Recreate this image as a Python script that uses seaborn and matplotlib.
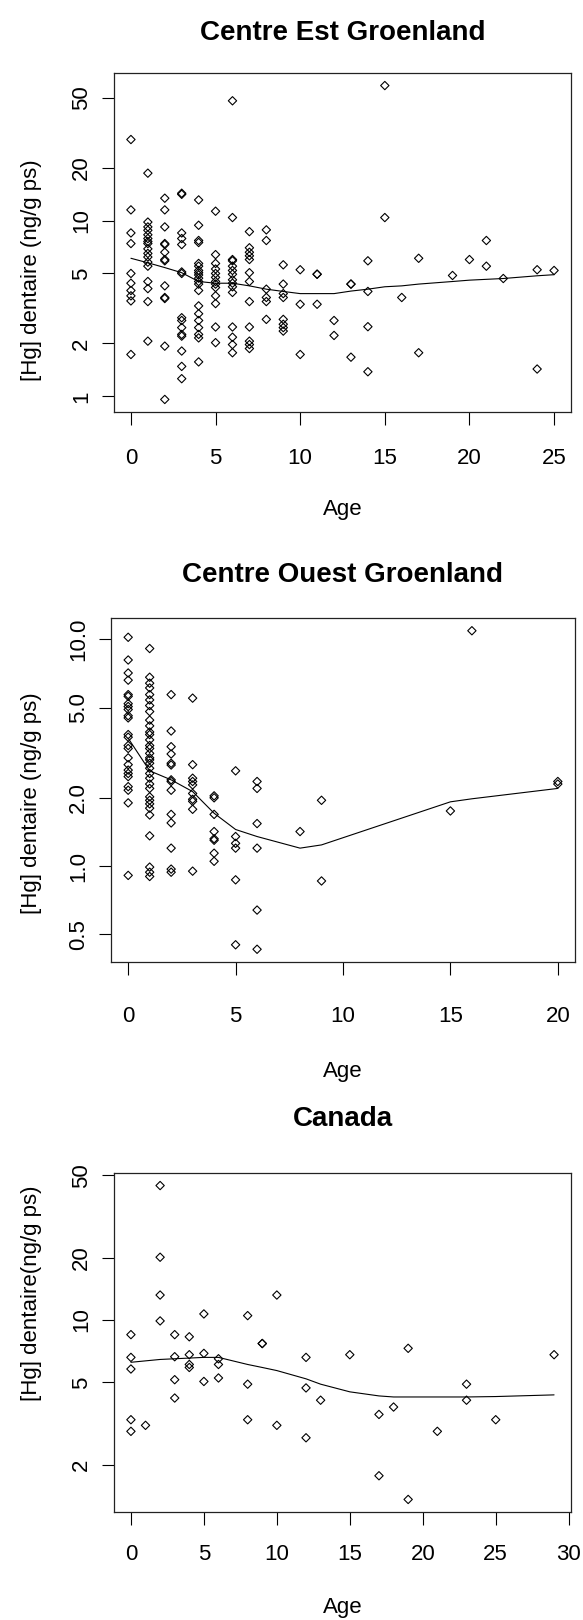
import pandas as pd
import matplotlib
matplotlib.use("Agg")
import matplotlib.pyplot as plt
import seaborn as sns
from matplotlib.ticker import NullLocator

# ---- data ----
# Centre Est Groenland : one list of [Hg] values per age
east_ages = [0, 1, 2, 3, 4, 5, 6, 7, 8, 9, 10, 11, 12, 13, 14, 15, 16, 17, 19, 20, 21, 22, 24, 25]
east_hg = [
    [28.9, 11.5, 8.5, 7.4, 5.0, 4.4, 4.0, 3.73, 3.49, 1.73],
    [18.6, 9.8, 9.2, 8.8, 8.3, 7.9, 7.6, 7.4, 6.9, 6.5, 6.2, 5.8, 5.5, 4.5, 4.1, 3.46, 2.06],
    [13.4, 11.5, 9.2, 7.4, 7.3, 6.6, 6.0, 5.9, 4.25, 3.65, 3.6, 1.93, 0.96],
    [14.3, 14.1, 8.5, 7.9, 7.3, 5.1, 5.0, 2.8, 2.7, 2.46, 2.25, 2.2, 1.81, 1.48, 1.26],
    [13.1, 9.4, 7.7, 7.5, 5.7, 5.5, 5.2, 5.05, 4.9, 4.7, 4.5, 4.35, 4.0, 3.27, 2.95, 2.7, 2.46, 2.25, 2.15, 1.57],
    [11.3, 6.4, 5.7, 5.3, 5.0, 4.75, 4.5, 4.35, 4.16, 3.73, 3.37, 2.48, 2.02],
    [48.0, 10.4, 6.0, 5.9, 5.5, 5.2, 4.95, 4.6, 4.4, 4.2, 3.9, 2.48, 2.17, 1.97, 1.77],
    [8.65, 7.0, 6.6, 6.3, 6.0, 5.05, 4.5, 3.46, 2.48, 2.06, 1.97, 1.87],
    [8.85, 7.7, 4.07, 3.65, 3.46, 2.74],
    [5.6, 4.35, 3.84, 3.65, 2.74, 2.57, 2.46, 2.35],
    [5.25, 3.34, 1.73],
    [4.95, 4.95, 3.34],
    [2.7, 2.22],
    [4.35, 4.35, 1.67],
    [5.9, 3.95, 2.49, 1.38],
    [58.6, 10.4],
    [3.65],
    [6.1, 1.77],
    [4.87],
    [6.0],
    [7.7, 5.5],
    [4.68],
    [5.25, 1.43],
    [5.2],
]
east_fit_age = [0, 1, 2, 3, 4, 5, 6, 7, 8, 9, 10, 11, 12, 13, 14, 15, 16, 17, 19, 20, 21, 22, 24, 25]
east_fit_hg = [6.1, 5.75, 5.4, 5.05, 4.5, 4.4, 4.4, 4.25, 4.07, 3.95, 3.84, 3.84, 3.84, 3.97, 4.07,
               4.2, 4.25, 4.35, 4.5, 4.58, 4.63, 4.68, 4.85, 4.92]

# Centre Ouest Groenland
west_ages = [0, 1, 2, 3, 4, 5, 6, 8, 9, 15, 16, 20]
west_hg = [
    [10.2, 8.1, 7.1, 6.6, 5.7, 5.6, 5.2, 5.05, 4.9, 4.6, 4.5, 3.8, 3.7, 3.4, 3.3, 3.0, 2.8, 2.65,
     2.56, 2.48, 2.24, 2.16, 1.90, 0.91],
    [9.1, 6.8, 6.4, 6.1, 5.7, 5.4, 5.1, 4.8, 4.4, 4.15, 3.9, 3.8, 3.6, 3.4, 3.3, 3.14, 3.0, 2.94,
     2.84, 2.7, 2.56, 2.44, 2.3, 2.2, 2.02, 1.95, 1.88, 1.8, 1.68, 1.36, 0.99, 0.94, 0.90],
    [5.7, 3.94, 3.36, 3.12, 2.84, 2.79, 2.4, 2.36, 2.16, 1.69, 1.55, 1.2, 0.97, 0.94],
    [5.5, 2.8, 2.44, 2.36, 2.28, 2.09, 1.97, 1.93, 1.78, 0.95],
    [2.04, 2.0, 1.69, 1.42, 1.32, 1.3, 1.14, 1.05],
    [2.63, 1.35, 1.26, 1.2, 0.87, 0.45],
    [2.36, 2.2, 1.54, 1.2, 0.64, 0.43],
    [1.42],
    [1.95, 0.86],
    [1.75],
    [10.9],
    [2.36, 2.3],
]
west_fit_age = [0, 1, 2, 3, 4, 5, 6, 8, 9, 15, 16, 20]
west_fit_hg = [3.66, 2.63, 2.4, 2.13, 1.71, 1.45, 1.35, 1.2, 1.24, 1.92, 1.98, 2.2]

# Canada
canada_ages = [0, 1, 2, 3, 4, 5, 6, 8, 9, 10, 12, 13, 15, 17, 18, 19, 21, 23, 25, 29]
canada_hg = [
    [8.5, 6.6, 5.8, 3.3, 2.9],
    [3.1],
    [44.6, 20.1, 13.2, 9.9],
    [8.5, 6.65, 5.15, 4.2],
    [8.3, 6.8, 6.1, 5.9],
    [10.7, 6.9, 5.05],
    [6.5, 6.1, 5.25],
    [10.5, 4.9, 3.3],
    [7.7, 7.7],
    [13.2, 3.1],
    [6.6, 4.7, 2.7],
    [4.1],
    [6.8],
    [3.5, 1.77],
    [3.8],
    [7.3, 1.36],
    [2.9],
    [4.9, 4.1],
    [3.3],
    [6.8],
]
canada_fit_age = [0, 1, 2, 3, 4, 5, 6, 8, 9, 10, 12, 13, 15, 17, 18, 19, 21, 23, 25, 29]
canada_fit_hg = [6.25, 6.35, 6.45, 6.5, 6.55, 6.6, 6.6, 6.1, 5.9, 5.7, 5.2, 4.9, 4.5, 4.3, 4.25,
                 4.25, 4.25, 4.25, 4.27, 4.35]

titles = ["Centre Est Groenland", "Centre Ouest Groenland", "Canada"]
ylabels = ["[Hg] dentaire (ng/g ps)", "[Hg] dentaire (ng/g ps)", "[Hg] dentaire(ng/g ps)"]
x_ticks = [[0, 5, 10, 15, 20, 25], [0, 5, 10, 15, 20], [0, 5, 10, 15, 20, 25, 30]]
y_ticks = [[1, 2, 5, 10, 20, 50], [0.5, 1.0, 2.0, 5.0, 10.0], [2, 5, 10, 20, 50]]
y_ticklabels = [["1", "2", "5", "10", "20", "50"],
                ["0.5", "1.0", "2.0", "5.0", "10.0"],
                ["2", "5", "10", "20", "50"]]

sns.set_style("white")
plt.rcParams['font.family'] = ['Liberation Sans', 'DejaVu Sans']

W, H = 583, 1620
fig = plt.figure(figsize=(W / 100, H / 100), dpi=100)

# each panel was pasted separately, so spacing differs a bit (pixels)
boxes = [(114, 73, 571, 412), (111, 618, 575, 962), (114, 1173, 571, 1512)]
xtick_pad = [16.6, 22.4, 14.4]        # points
xlabel_gap = [97, 109, 96]            # px below the box
title_gap = [40, 43, 54]              # px above the box
ylabel_mid = [270, 803, 1293]         # px from top of figure

panels = [
    (east_ages, east_hg, east_fit_age, east_fit_hg),
    (west_ages, west_hg, west_fit_age, west_fit_hg),
    (canada_ages, canada_hg, canada_fit_age, canada_fit_hg),
]

for i, (ages, groups, fit_age, fit_hg) in enumerate(panels):
    l, t, r, b = boxes[i]
    ax = fig.add_axes([l / W, 1 - b / H, (r - l) / W, (b - t) / H])
    df = pd.DataFrame([(a, v) for a, vs in zip(ages, groups) for v in vs], columns=['Age', 'Hg'])

    sns.scatterplot(data=df, x='Age', y='Hg', ax=ax, marker='D', s=18,
                    color='black', linewidth=0.8, legend=False)
    ax.collections[0].set_facecolor('none')
    ax.collections[0].set_edgecolor('black')
    sns.lineplot(x=fit_age, y=fit_hg, ax=ax, color='black', linewidth=0.8,
                 estimator=None, sort=False)

    ax.set_yscale('log')
    # R style 4 % padding
    xmin, xmax = df['Age'].min(), df['Age'].max()
    dx = 0.04 * (xmax - xmin)
    ax.set_xlim(xmin - dx, xmax + dx)
    lo, hi = df['Hg'].min(), df['Hg'].max()
    f = (hi / lo) ** 0.04
    ax.set_ylim(lo / f, hi * f)

    ax.set_xticks(x_ticks[i])
    ax.set_xticklabels([str(v) for v in x_ticks[i]])
    ax.set_yticks(y_ticks[i])
    ax.set_yticklabels(y_ticklabels[i])
    ax.yaxis.set_minor_locator(NullLocator())
    ax.tick_params(axis='both', which='major', direction='out', length=9, width=0.8,
                   color='black', labelsize=16, labelcolor='black',
                   bottom=True, left=True, top=False, right=False)
    ax.tick_params(axis='x', pad=xtick_pad[i])
    ax.tick_params(axis='y', pad=7, labelrotation=90)
    for lab in ax.get_yticklabels():
        lab.set_va('center')

    for sp in ax.spines.values():
        sp.set_visible(True)
        sp.set_color('#222222')
        sp.set_linewidth(0.9)

    bw, bh = r - l, b - t
    ax.set_xlabel('Age', fontsize=16, color='black', va='center')
    ax.xaxis.set_label_coords(0.5, -xlabel_gap[i] / bh)
    ax.set_ylabel(ylabels[i], fontsize=16, color='black', va='center')
    ax.yaxis.set_label_coords((32 - l) / bw, (b - ylabel_mid[i]) / bh)
    ax.set_title(titles[i], fontsize=20, fontweight='bold', color='black',
                 y=1 + title_gap[i] / bh, pad=0, va='center')

fig.savefig('out.png', dpi=100, facecolor='white')
